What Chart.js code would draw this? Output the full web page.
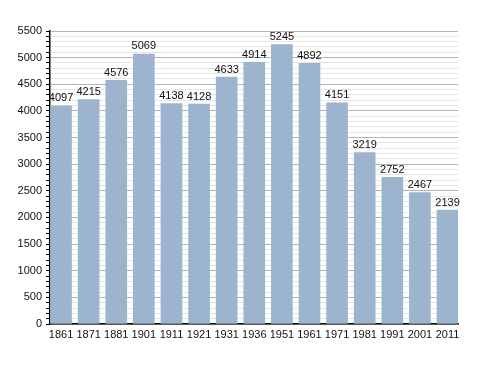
<!DOCTYPE html>
<html>
<head>
<meta charset="utf-8">
<script src="https://cdn.jsdelivr.net/npm/chart.js@4"></script>
<style>
  html, body { margin: 0; padding: 0; background: #fff; }
  #wrap { width: 488px; height: 373px; }
</style>
</head>
<body>
<div id="wrap"><canvas id="myChart" width="488" height="373"></canvas></div>
<script>
// census years and population
var years = ['1861', '1871', '1881', '1901', '1911', '1921', '1931', '1936', '1951', '1961', '1971', '1981', '1991', '2001', '2011'];
var population = [4097, 4215, 4576, 5069, 4138, 4128, 4633, 4914, 5245, 4892, 4151, 3219, 2752, 2467, 2139];
var yMax = 5500;
var yMajorStep = 500;
var yMinorStep = 100;

// bars sit on a linear x scale so the edge gaps can be narrower than the gaps between bars
var points = [];
population.forEach(function (v, i) {
    points.push({ x: i, y: v });
});

// draws the value above every bar
var valueLabels = {
    id: 'valueLabels',
    afterDatasetsDraw: function (chart) {
        var ctx = chart.ctx;
        var meta = chart.getDatasetMeta(0);
        ctx.save();
        ctx.font = '11px "Liberation Sans", Arial, sans-serif';
        ctx.fillStyle = '#111';
        ctx.textAlign = 'center';
        ctx.textBaseline = 'bottom';
        meta.data.forEach(function (bar, i) {
            ctx.fillText(population[i], bar.x, bar.y - 2);
        });
        ctx.restore();
    }
};

var ctx = document.getElementById('myChart').getContext('2d');
var myChart = new Chart(ctx, {
    type: 'bar',
    data: {
        datasets: [{
            data: points,
            backgroundColor: '#9cb4cd',
            borderWidth: 0,
            barThickness: 21
        }]
    },
    options: {
        responsive: false,
        animation: false,
        layout: { padding: { left: 0, right: 30, top: 31, bottom: 29 } },
        plugins: {
            legend: { display: false },
            tooltip: { enabled: false }
        },
        scales: {
            x: {
                type: 'linear',
                min: -0.4,
                max: years.length - 1 + 0.38,
                offset: false,
                grid: { display: false, drawTicks: false },
                border: { display: true, color: '#000', width: 1.5 },
                ticks: {
                    color: '#111',
                    font: { size: 11, family: '"Liberation Sans", Arial, sans-serif' },
                    padding: 4,
                    maxRotation: 0,
                    autoSkip: false,
                    callback: function (v) {
                        return years[v] || '';
                    }
                },
                afterBuildTicks: function (scale) {
                    scale.ticks = years.map(function (y, i) { return { value: i }; });
                },
                afterFit: function (scale) { scale.height = 20; }
            },
            y: {
                min: 0,
                max: yMax,
                grid: {
                    color: function (c) {
                        return c.tick.value % yMajorStep === 0 ? '#b4b4b4' : '#e6e6e6';
                    },
                    tickColor: '#000',
                    tickLength: 4,
                    lineWidth: 1
                },
                border: { display: true, color: '#000', width: 1.5 },
                ticks: {
                    stepSize: yMinorStep,
                    autoSkip: false,
                    color: '#111',
                    font: { size: 11, family: '"Liberation Sans", Arial, sans-serif' },
                    padding: 4,
                    callback: function (v) {
                        return v % yMajorStep === 0 ? v : '';
                    }
                },
                afterFit: function (scale) { scale.width = 50; }
            }
        }
    },
    plugins: [valueLabels]
});
</script>
</body>
</html>
